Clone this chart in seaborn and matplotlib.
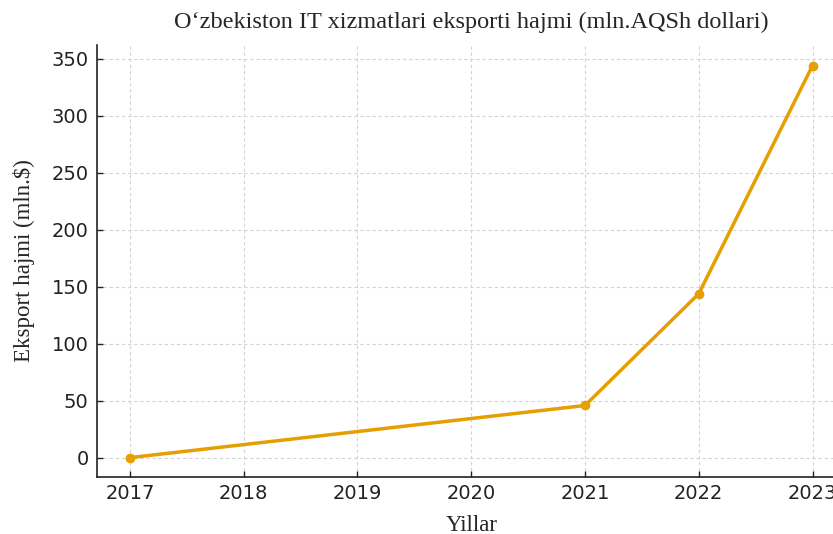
import matplotlib
matplotlib.use("Agg")
import matplotlib.pyplot as plt
import seaborn as sns
import pandas as pd

years = [2017, 2021, 2022, 2023]
export_values = [0.3, 46, 144, 344]
x_ticks = [2017, 2018, 2019, 2020, 2021, 2022, 2023]
y_ticks = [0, 50, 100, 150, 200, 250, 300, 350]

title = "O‘zbekiston IT xizmatlari eksporti hajmi (mln.AQSh dollari)"
xlabel = "Yillar"
ylabel = "Eksport hajmi (mln.$)"

sns.set_style("ticks")
plt.rcParams['font.family'] = ['DejaVu Sans']

df = pd.DataFrame({"year": years, "value": export_values})

fig = plt.figure(figsize=(8.33, 5.34), dpi=100)
ax = fig.add_axes([0.1164, 0.1067, 0.9, 0.809])

sns.lineplot(data=df, x="year", y="value", marker="o", color="#E69F00",
             linewidth=2.5, markersize=7, markeredgewidth=0, ax=ax)

ax.set_xticks(x_ticks)
ax.set_yticks(y_ticks)
ax.set_xlim(2016.71, 2023.3)
ax.set_ylim(-16.7, 362)
ax.tick_params(labelsize=14, colors="#222222", length=4, width=1.0,
               direction="in", pad=5)
ax.tick_params(axis="y", pad=6)
ax.grid(True, linestyle=(0, (3, 2.5)), color="#d3d3d3", linewidth=0.8)
for s in ["top", "right"]:
    ax.spines[s].set_visible(False)
for s in ["left", "bottom"]:
    ax.spines[s].set_color("#222222")
    ax.spines[s].set_linewidth(1.2)

serif = ["Liberation Serif", "DejaVu Serif"]
ax.set_title(title, family=serif, fontsize=17.5, pad=12)
ax.set_xlabel(xlabel, family=serif, fontsize=16.5, labelpad=9)
ax.set_ylabel(ylabel, family=serif, fontsize=16.5, labelpad=12)

fig.savefig("out.png", dpi=100)
